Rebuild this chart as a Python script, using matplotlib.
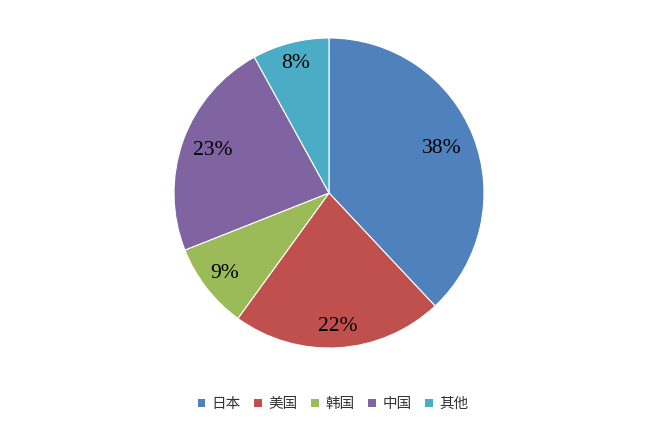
import numpy as np
import matplotlib.pyplot as plt
from matplotlib.patches import Patch

plt.rcParams['font.family'] = ['Noto Sans CJK SC', 'DejaVu Sans']

labels = ['日本', '美国', '韩国', '中国', '其他']
values = [38, 22, 9, 23, 8]
colors = ['#4F81BD', '#C0504D', '#9BBB59', '#8064A2', '#4BACC6']
# how far out each percentage sits (fraction of radius), Excel "best fit" style
label_dist = [0.78, 0.865, 0.85, 0.80, 0.865]

W, H = 657, 423
fig = plt.figure(figsize=(W / 100, H / 100), dpi=100)
cx, cy, r = 329, 193, 155
ax = fig.add_axes([(cx - r) / W, (H - cy - r) / H, 2 * r / W, 2 * r / H])

wedges, texts, autotexts = ax.pie(values, colors=colors, startangle=90, counterclock=False,
                                  autopct='%d%%', pctdistance=0.78,
                                  wedgeprops=dict(edgecolor='white', linewidth=0.8))
for w, t, d in zip(wedges, autotexts, label_dist):
    ang = np.deg2rad((w.theta1 + w.theta2) / 2)
    t.set_position((d * np.cos(ang), d * np.sin(ang)))
    t.set_family('Liberation Serif')
    t.set_fontsize(15.5)
    t.set_color('black')
ax.set_xlim(-1, 1)
ax.set_ylim(-1, 1)
ax.set_aspect('equal')

handles = [Patch(facecolor=c, edgecolor='none') for c in colors]
fig.legend(handles, labels, ncol=5, loc='center', bbox_to_anchor=(333 / W, 1 - 404 / H),
           frameon=False, fontsize=10.5, handlelength=0.5, handleheight=0.5,
           handletextpad=0.45, columnspacing=0.95, labelcolor='#333333')

fig.savefig('out.png', dpi=100)
